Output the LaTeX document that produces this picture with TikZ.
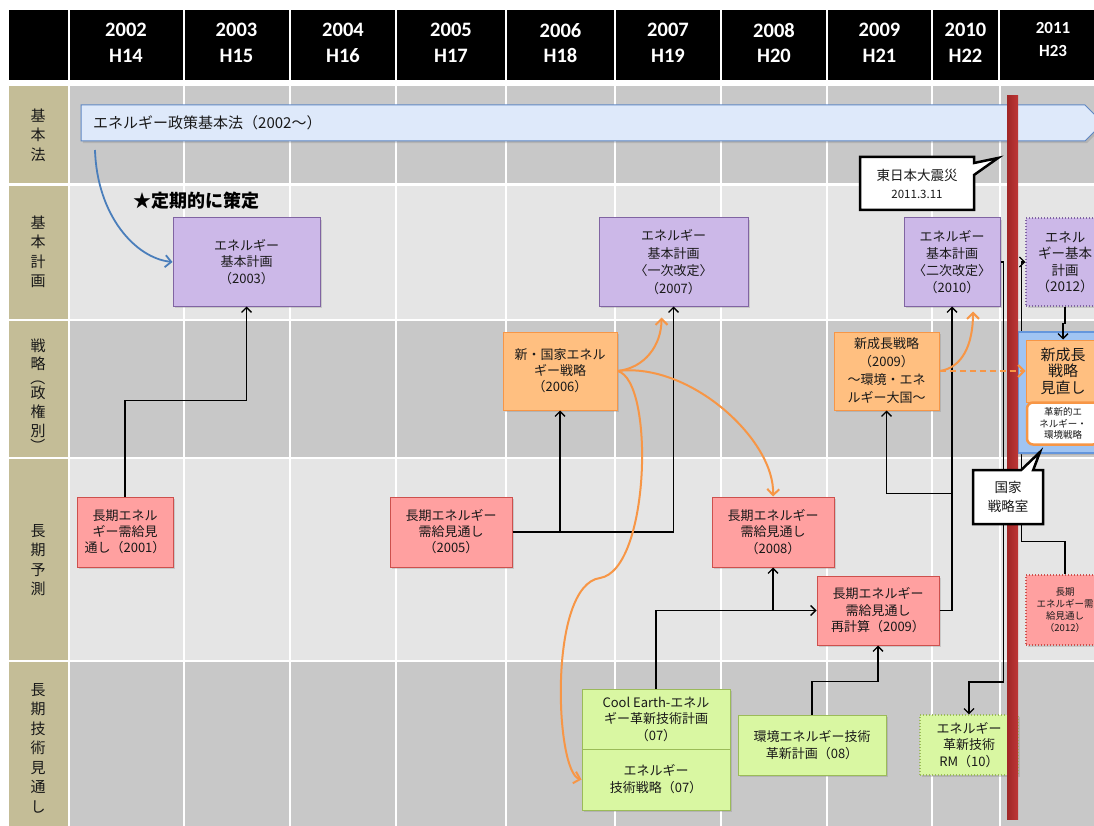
\documentclass[tikz,border=0pt]{standalone}
\usepackage{graphicx}
\usepackage{fontspec}
\setmainfont{Noto Sans CJK JP}
\newfontfamily\hdrfont{Carlito}
\usetikzlibrary{arrows.meta,shapes.callouts,shadows,calc}
\definecolor{rowdark}{RGB}{200,200,200}
\definecolor{rowlight}{RGB}{229,229,229}
\definecolor{tancol}{RGB}{196,189,151}
\definecolor{purfill}{RGB}{204,184,232}
\definecolor{purline}{RGB}{128,100,162}
\definecolor{orfill}{RGB}{255,191,128}
\definecolor{orline}{RGB}{247,150,70}
\definecolor{pkfill}{RGB}{255,160,160}
\definecolor{pkline}{RGB}{205,80,77}
\definecolor{grfill}{RGB}{217,247,162}
\definecolor{grline}{RGB}{155,187,89}
\definecolor{bnfill}{RGB}{222,233,250}
\definecolor{bnline}{RGB}{95,135,195}
\definecolor{rgfill}{RGB}{160,196,242}
\definecolor{rgline}{RGB}{100,150,220}
\definecolor{barL}{RGB}{160,38,38}
\definecolor{barR}{RGB}{190,55,55}
\definecolor{arrblue}{RGB}{74,126,187}
\definecolor{txt}{RGB}{25,25,25}
\newcommand\vlp{\rotatebox[origin=c]{-90}{（}}
\newcommand\vrp{\rotatebox[origin=c]{-90}{）}}
\begin{document}
\begin{tikzpicture}[x=1pt,y=-1pt,
  box/.style={draw, line width=1pt, inner sep=0pt, align=center, text=txt, font=\fontsize{13}{16.5}\selectfont},
  shad/.style={drop shadow={shadow xshift=1.8pt,shadow yshift=-2.2pt,opacity=0.28}},
  pur/.style={box,shad,fill=purfill,draw=purline},
  org/.style={box,shad,fill=orfill,draw=orline},
  pnk/.style={box,shad,fill=pkfill,draw=pkline},
  grn/.style={box,shad,fill=grfill,draw=grline},
  dotb/.style={dotted, line width=1.2pt},
  rowlab/.style={align=center, text=txt, inner sep=0pt, font=\fontsize{15}{19.5}\selectfont},
  yr/.style={align=center, text=white, inner sep=0pt, font=\hdrfont\bfseries\fontsize{20.5}{25.5}\selectfont},
  arr/.style={draw=black, line width=1.3pt, -{Straight Barb[length=5pt,width=10pt]}},
  oarr/.style={draw=orline, line width=2pt, -{Straight Barb[length=6pt,width=12pt]}},
  call/.style={rectangle callout, draw=black, line width=2.5pt, fill=white, align=center, text=txt, inner sep=0pt, callout pointer width=12pt}
]
\useasboundingbox (0,0) rectangle (1094,826);
\clip (0,0) rectangle (1094,826);
% ---------- grid ----------
\fill[white] (0,0) rectangle (1094,826);
\fill[black] (9,10) rectangle (1094,80);
\foreach \x in {69,183.5,289.5,396,506,615,721,827,932,999}
  \draw[white,line width=2pt] (\x,10) -- (\x,80);
\fill[rowdark] (69,86) rectangle (1094,184.5);
\fill[rowlight] (69,184.5) rectangle (1094,320);
\fill[rowdark] (69,320) rectangle (1094,458);
\fill[rowlight] (69,458) rectangle (1094,661);
\fill[rowdark] (69,661) rectangle (1094,826);
\fill[tancol] (9,86) rectangle (69,826);
\foreach \y in {184.5,320,458,661}
  \draw[white,line width=2.5pt] (9,\y) -- (1094,\y);
\foreach \x in {69,183.5,289.5,396,506,615,721,827,932,1000}
  \draw[white,line width=2pt] (\x,86) -- (\x,826);
% ---------- header ----------
\node[yr] (y02) at (126,43) {2002\\H14};
\node[yr] (y03) at (236.5,43) {2003\\H15};
\node[yr] (y04) at (343,43) {2004\\H16};
\node[yr] (y05) at (451,43) {2005\\H17};
\node[yr] (y06) at (560.5,43) {2006\\H18};
\node[yr] (y07) at (668,43) {2007\\H19};
\node[yr] (y08) at (774,43) {2008\\H20};
\node[yr] (y09) at (879.5,43) {2009\\H21};
\node[yr] (y10) at (965.5,43) {2010\\H22};
\node[yr, font=\hdrfont\bfseries\fontsize{17}{23}\selectfont] (y11) at (1053,39.5) {2011\\H23};
% ---------- row labels ----------
\node[rowlab] (r1) at (38,135) {基\\本\\法};
\node[rowlab] (r2) at (38,252) {基\\本\\計\\画};
\node[rowlab, font=\fontsize{15}{19}\selectfont] (r3) at (38,396) {戦\\[-1pt]略\\[-5pt]\vlp\\[-4pt]政\\権\\別\\[-4pt]\vrp};
\node[rowlab] (r4) at (38,560) {長\\期\\予\\測};
\node[rowlab] (r5) at (38,748) {長\\期\\技\\術\\見\\通\\し};
% ---------- banner ----------
\path[draw=bnline, fill=bnfill, line width=1pt, shad] (81,105) -- (1085,105) -- (1103,123) -- (1085,141) -- (81,141) -- cycle;
\node[anchor=west, inner sep=0pt, text=txt, font=\fontsize{15}{18}\selectfont] (law) at (93,123) {エネルギー政策基本法（2002～）};
\coordinate (b0) at (95,150);
\node[inner sep=0pt, text=black, font=\bfseries\fontsize{18}{20}\selectfont] (teiki) at (196,201) {★定期的に策定};
% ---------- nodes ----------
\path
  (246.5,262) coordinate (pkh03) (673.5,262) coordinate (pkh07)
  (952,262) coordinate (pkh10) (1065,262) coordinate (pkh12);
\node[pur, minimum width=147pt, minimum height=88pt] (kh03) at (pkh03) {エネルギー\\基本計画\\（2003）};
\node[pur, minimum width=149pt, minimum height=88pt, font=\fontsize{13}{17.5}\selectfont] (kh07) at (pkh07) {エネルギー\\基本計画\\〈一次改定〉\\（2007）};
\node[pur, minimum width=96pt, minimum height=88pt, font=\fontsize{13}{17}\selectfont] (kh10) at (pkh10) {エネルギー\\基本計画\\〈二次改定〉\\（2010）};
\node[pur, dotb, minimum width=78pt, minimum height=88pt, font=\fontsize{13.5}{16.5}\selectfont] (kh12) at (pkh12) {エネル\\ギー基本\\計画\\（2012）};
\node[org, minimum width=114pt, minimum height=78pt, font=\fontsize{13}{16}\selectfont] (st06) at (560,371) {新・国家エネル\\ギー戦略\\（2006）};
\node[org, minimum width=105pt, minimum height=78pt, font=\fontsize{13}{18}\selectfont] (st09) at (886.5,371) {新成長戦略\\（2009）\\～環境・エネ\\ルギー大国～};
\node[pnk, minimum width=96pt, minimum height=70pt, font=\fontsize{13}{16}\selectfont] (lt01) at (125,532) {長期エネル\\ギー需給見\\通し（2001）};
\node[pnk, minimum width=122pt, minimum height=70pt, font=\fontsize{13}{16}\selectfont] (lt05) at (451,532) {長期エネルギー\\需給見通し\\（2005）};
\node[pnk, minimum width=122pt, minimum height=70pt, font=\fontsize{13}{16.5}\selectfont] (lt08) at (773,532) {長期エネルギー\\需給見通し\\（2008）};
\node[pnk, minimum width=122pt, minimum height=69pt, font=\fontsize{13}{16.5}\selectfont] (lt09) at (878,610.5) {長期エネルギー\\需給見通し\\再計算（2009）};
\node[pnk, dotb, minimum width=78pt, minimum height=70pt, font=\fontsize{9.5}{12}\selectfont] (lt12) at (1065,610) {長期\\エネルギー需\\給見通し\\（2012）};
\node[grn, minimum width=148pt, minimum height=60pt, font=\fontsize{13}{16.5}\selectfont] (gce) at (656,719) {Cool Earth-エネル\\ギー革新技術計画\\（07）};
\node[grn, minimum width=148pt, minimum height=61pt, font=\fontsize{13}{17}\selectfont] (gst) at (656,779.5) {エネルギー\\技術戦略（07）};
\node[grn, minimum width=148pt, minimum height=60pt, font=\fontsize{13}{17}\selectfont] (g08) at (812,745) {環境エネルギー技術\\革新計画（08）};
\node[grn, dotb, minimum width=98pt, minimum height=60pt, font=\fontsize{13}{16.5}\selectfont] (g10) at (969,745) {エネルギー\\革新技術\\RM（10）};
% ---------- black connectors ----------
\draw[arr] (lt01.north) -- ++(0,-96) -| (kh03.south);
\draw[arr] (lt05.east) -| (kh07.south);
\draw[arr] (lt05.east -| st06.south) -- (st06.south);
\draw[arr] (gce.north) |- (lt09.west);
\draw[arr] (lt09.west -| lt08.south) -- (lt08.south);
\draw[arr] (g08.north) -- ++(0,-33) -| (lt09.south);
\draw[arr] (lt09.east) -| (kh10.south);
\coordinate (j5) at ($(kh10.south)+(0,187)$);
\draw[arr] (j5) -| (st09.south);
\coordinate (j6) at (1003.5,682);
\draw[arr] (kh10.east) -| (j6) -| (g10.north);
\coordinate (j7) at (1021.5,262);
\draw[arr] (lt12.north) -- ++(0,-33) -| (j7) -- (kh12.west);
% ---------- region box ----------
\node[draw=rgline, fill=rgfill, line width=1.5pt, shad, minimum width=92pt, minimum height=121pt, inner sep=0pt] (region) at (1064,392.5) {};
\node[box, fill=orfill, draw=orline, minimum width=74pt, minimum height=62pt, font=\fontsize{15}{16.5}\selectfont] (st11) at (1063,371) {新成長\\戦略\\見直し};
\node[box, fill=white, draw=orline, line width=2.5pt, rounded corners=6pt, minimum width=72pt, minimum height=42pt, font=\fontsize{9.5}{11.5}\selectfont] (inn) at (1063,423.5) {革新的エ\\ネルギー・\\環境戦略};
\draw[arr] (kh12.south) -- ++(0,17) -| (st11.north);
% ---------- orange and blue curves ----------
\draw[oarr] (st06.east) .. controls (645,368) and (661.5,345) .. ($(kh07.south)+(-12,11)$);
\draw[oarr] (st06.east) .. controls (690,362) and (775,440) .. (lt08.north);
\draw[oarr] (st06.east) .. controls (655,380) and (650,570) .. (600,578) .. controls (548,585) and (555,772) .. (gst.west);
\draw[oarr] (st09.east) .. controls (962,368) and (973,345) .. ($(kh10.south)+(21,5)$);
\draw[draw=arrblue, line width=1.8pt, -{Straight Barb[length=6pt,width=12pt]}] (b0) .. controls (97,215) and (135,258) .. (kh03.west);
% ---------- red bar ----------
\shade[left color=barL, right color=barR] (1007,96) rectangle (1018,819);
\draw[oarr, dash pattern=on 6pt off 4pt] (st09.east) -- (st11.west);
% ---------- callouts ----------
\node[call, callout absolute pointer={(998,158)}, minimum width=114pt, minimum height=53pt, font=\fontsize{13.5}{18}\selectfont] (quake) at (917,183.5) {東日本大震災\\{\fontsize{11.5}{18}\selectfont 2011.3.11}};
\node[call, callout absolute pointer={(1040,452)}, minimum width=70pt, minimum height=54pt, font=\fontsize{13.5}{19}\selectfont] (nsr) at (1008,497) {国家\\戦略室};
\end{tikzpicture}
\end{document}
